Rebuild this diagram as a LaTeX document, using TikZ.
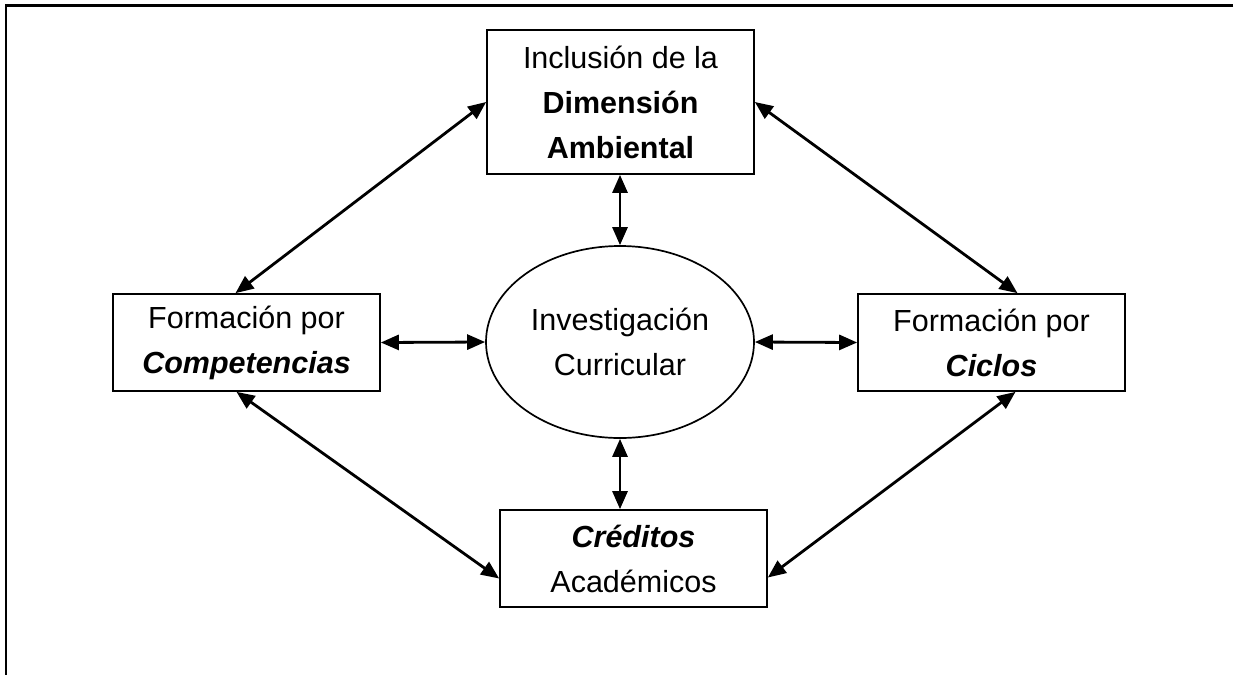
\documentclass[tikz,border=0pt]{standalone}
\usepackage{fontspec}
\setmainfont{Liberation Sans}
\usetikzlibrary{arrows.meta,shapes.geometric,calc}
\begin{document}
\begin{tikzpicture}[x=1pt,y=-1pt,
  box/.style={draw,line width=1.7pt,minimum width=267pt,align=center,inner sep=0pt,
    font=\fontsize{30.5}{45}\selectfont},
  dbl/.style={line width=2.8pt,{Triangle[length=18pt,width=15pt]}-{Triangle[length=18pt,width=15pt]}},
  frame/.style={line width=2.6pt}]
\useasboundingbox (0,0) rectangle (1234,675);
\coordinate (ftr) at (1233,5.5);
\coordinate (ftl) at (6,5.5);
\coordinate (fbl) at (6,675);
\draw[frame] (ftr) -- (ftl) -- (fbl);
\node[box,minimum height=144pt] (top) at (620.5,102) {Inclusión de la\\\textbf{Dimensión}\\\textbf{Ambiental}};
\node[box,minimum height=97pt] (left) at (246.5,342.5) {Formación por\\\textbf{\textit{Competencias}}};
\node[box,minimum height=97pt] (right) at (991.5,342.5) {Formación por\\\textbf{\textit{Ciclos}}};
\node[box,minimum height=97pt] (bot) at (633.5,558.5) {\textbf{\textit{Créditos}}\\Académicos};
\node[draw,line width=1.7pt,ellipse,minimum width=268pt,minimum height=192pt,inner sep=0pt,align=center,
  font=\fontsize{30.5}{45}\selectfont] (ell) at (620,342) {Investigación\\Curricular};
\draw[dbl] (top.south -| ell.north) -- (ell.north);
\draw[dbl] (ell.south) -- (ell.south |- bot.north);
\draw[dbl] (left.east) -- (ell.west);
\draw[dbl] (ell.east) -- (right.west);
\draw[dbl] (top.west) -- ([xshift=-11pt]left.north);
\draw[dbl] (top.east) -- ([xshift=26pt]right.north);
\draw[dbl] ([xshift=-10pt]left.south) -- ([yshift=-20pt]bot.west);
\draw[dbl] ([xshift=24pt]right.south) -- ([yshift=-19pt]bot.east);
\end{tikzpicture}
\end{document}
